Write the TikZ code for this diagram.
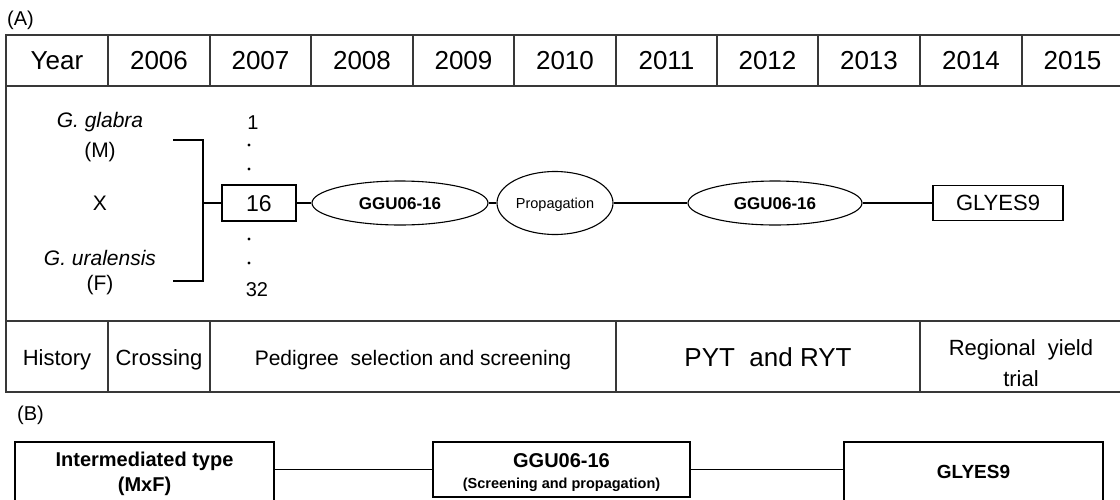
\documentclass[tikz,border=0pt]{standalone}
\usepackage{fontspec}
\setmainfont{Liberation Sans}
\usetikzlibrary{shapes.geometric}
\newcommand\fsz[1]{\fontsize{#1}{#1}\selectfont}
\begin{document}
\begin{tikzpicture}[x=1pt,y=-1pt,
  grid/.style={draw=black!78,line width=1.4pt},
  conn/.style={draw=black,line width=1.1pt},
  lbl/.style={inner sep=0pt,anchor=base},
  sqbox/.style={draw=black,line width=1.1pt,rectangle,inner sep=0pt,text depth=0pt},
  ell/.style={draw=black,line width=1.1pt,ellipse,inner sep=0pt,text depth=0pt},
  bbox/.style={draw=black,line width=1.1pt,rectangle,inner sep=0pt},
  dot/.style={circle,fill=black,inner sep=0pt,minimum size=3.4pt}]
\useasboundingbox (0,0) rectangle (1120,499);
\clip (0,0) rectangle (1120,499);

% ---------- (A) ----------
\node[lbl,anchor=base west,font=\fsz{20}] (labA) at (7,25) {(A)};

% table grid
\draw[grid] (6,35) rectangle (1123,392);
\draw[grid] (6,86) -- (1123,86);
\draw[grid] (6,321) -- (1123,321);
\foreach \x in {108,210,311,413,514,616,717,818,920,1022}
  \draw[grid] (\x,35) -- (\x,86);
\foreach \x in {108,210,616,920}
  \draw[grid] (\x,321) -- (\x,392);

% header row
\foreach \t/\x [count=\i] in {Year/57,2006/159,2007/260.5,2008/362,2009/463.5,2010/565,2011/666.5,2012/767.5,2013/869,2014/971,2015/1072.5}
  \node[lbl,font=\fsz{26}] (h\i) at (\x,69.8) {\t};

% bottom row
\node[lbl,font=\fsz{22}] (hist) at (57,365) {History};
\node[lbl,font=\fsz{22}] (cross) at (159,365) {Crossing};
\node[lbl,font=\fsz{21}] (pedi) at (413,365) {Pedigree\ \ selection and screening};
\node[lbl,font=\fsz{26}] (pyt) at (768,366.3) {PYT\ \ and RYT};
\node[lbl,font=\fsz{22}] (reg1) at (1021,355) {Regional\ \ yield};
\node[lbl,font=\fsz{22}] (reg2) at (1021,386) {trial};

% parents
\node[lbl,font=\itshape\fsz{21}] (gg) at (100,127) {G. glabra};
\node[lbl,font=\fsz{21}] (mm) at (100,157) {(M)};
\node[lbl,font=\fsz{21}] (xx) at (100,210) {X};
\node[lbl,font=\itshape\fsz{21}] (gu) at (100,265) {G. uralensis};
\node[lbl,font=\fsz{21}] (ff) at (100,290) {(F)};

% bracket
\coordinate (bt) at (173,140);
\coordinate (bb) at (173,281);
\coordinate (bj) at (203,203);
\draw[conn] (bt) -- (203,140) -- (203,281) -- (bb);

% line numbers
\node[lbl,font=\fsz{20}] (one) at (253,129) {1};
\node[dot] (d1) at (249,145) {};
\node[dot] (d2) at (249,169) {};
\node[dot] (d3) at (249,239) {};
\node[dot] (d4) at (249,263) {};
\node[lbl,font=\fsz{20}] (tt) at (257,296) {32};

% chain
\node[sqbox,text height=16.5pt,minimum width=74pt,minimum height=36pt,font=\fsz{23}] (n16) at (259,203) {16};
\node[ell,text height=12.2pt,minimum width=176pt,minimum height=44pt,font=\bfseries\fsz{17}] (e1) at (400,203) {GGU06-16};
\node[ell,text height=10.4pt,minimum width=116pt,minimum height=63pt,font=\fsz{14.5}] (prop) at (555,203) {Propagation};
\node[ell,text height=12.2pt,minimum width=174pt,minimum height=44pt,font=\bfseries\fsz{17}] (e2) at (775,203) {GGU06-16};
\node[sqbox,text height=15.8pt,minimum width=130pt,minimum height=35pt,font=\fsz{22}] (gly) at (998,203) {GLYES9};

\draw[conn] (bj) -- (n16.west);
\draw[conn] (n16.east) -- (e1.west);
\draw[conn] (e1.east) -- (prop.west);
\draw[conn] (prop.east) -- (e2.west);
\draw[conn] (e2.east) -- (gly.west);

% ---------- (B) ----------
\node[lbl,anchor=base west,font=\fsz{20}] (labB) at (17,420) {(B)};

\node[bbox,minimum width=259pt,minimum height=64pt] (b1) at (144.5,474) {};
\node[bbox,minimum width=257pt,minimum height=55pt] (b2) at (561.5,469.5) {};
\node[bbox,minimum width=259pt,minimum height=64pt] (b3) at (973.5,474) {};

\node[lbl,font=\bfseries\fsz{20}] (b1a) at (144.5,466) {Intermediated type};
\node[lbl,font=\bfseries\fsz{20}] (b1b) at (144.5,491) {(MxF)};
\node[lbl,font=\bfseries\fsz{20}] (b2a) at (561.5,467) {GGU06-16};
\node[lbl,font=\bfseries\fsz{14.5}] (b2b) at (561.5,488) {(Screening and propagation)};
\node[lbl,font=\bfseries\fsz{19}] (b3a) at (973.5,478) {GLYES9};

\draw[conn] (b1.east |- b2.west) -- (b2.west);
\draw[conn] (b2.east) -- (b3.west |- b2.east);
\end{tikzpicture}
\end{document}
